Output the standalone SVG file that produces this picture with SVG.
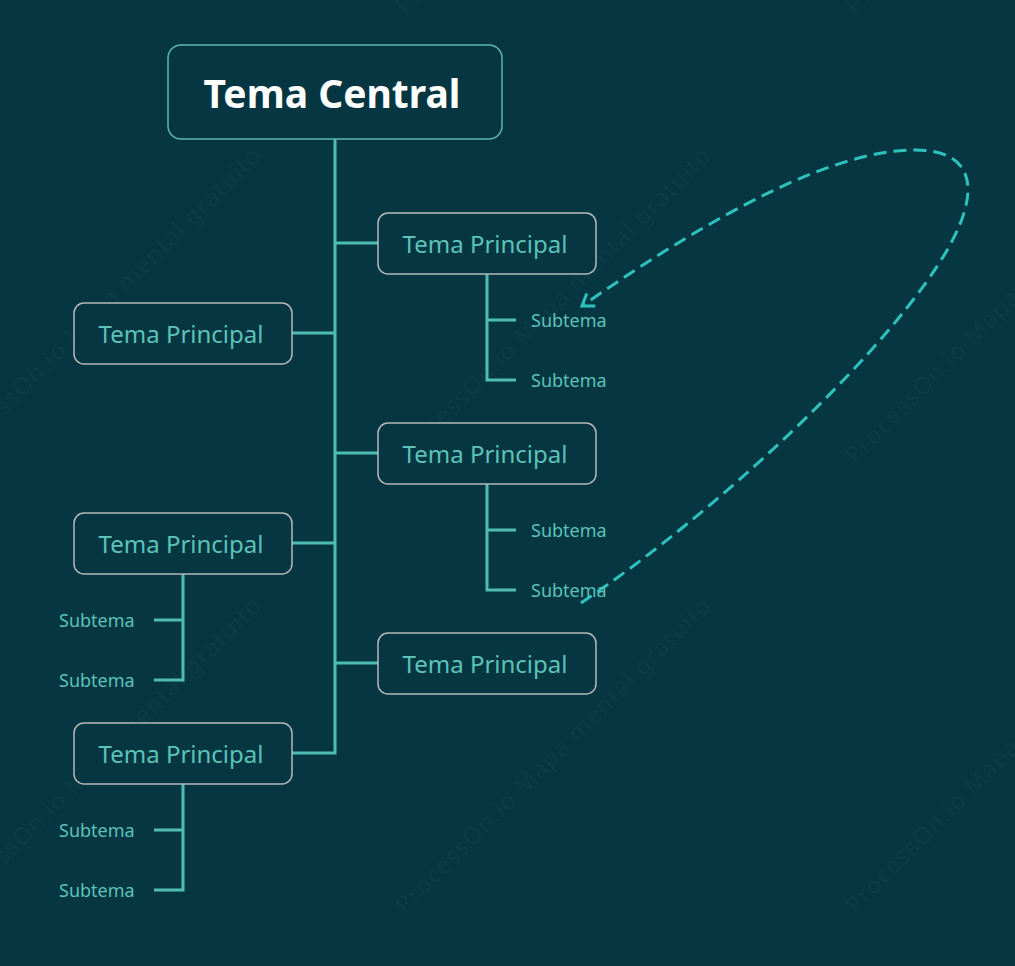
<svg xmlns="http://www.w3.org/2000/svg" width="1015" height="966" viewBox="0 0 1015 966">
<defs>
<style>
.wm{font-family:"Noto Sans",sans-serif;font-size:24px;fill:#ffffff;fill-opacity:0.035}
.conn{fill:none;stroke:#4fbdb2;stroke-width:3}
.main rect{fill:#053642;stroke:#b5b9b8;stroke-width:1.5}
.main text{font-family:"Noto Sans",sans-serif;font-size:24px;fill:#5bc3b8;text-anchor:middle}
.sub{font-family:"Noto Sans",sans-serif;font-size:18px;fill:#5bc3b8}
</style>
<marker id="arr" markerWidth="20" markerHeight="20" refX="15" refY="9" orient="auto" markerUnits="userSpaceOnUse">
<path d="M4,1.5 L15,9 L4,16.5" fill="none" stroke="#2ec2bd" stroke-width="3"/>
</marker>
</defs>
<rect width="1015" height="966" fill="#053642"/>
<g id="watermarks">
<text class="wm" textLength="435" transform="translate(-45,465) rotate(-45)">ProcessOn.io Mapa mental gratuito</text>
<text class="wm" textLength="435" transform="translate(-45,915) rotate(-45)">ProcessOn.io Mapa mental gratuito</text>
<text class="wm" textLength="435" transform="translate(405,15) rotate(-45)">ProcessOn.io Mapa mental gratuito</text>
<text class="wm" textLength="435" transform="translate(405,465) rotate(-45)">ProcessOn.io Mapa mental gratuito</text>
<text class="wm" textLength="435" transform="translate(405,915) rotate(-45)">ProcessOn.io Mapa mental gratuito</text>
<text class="wm" textLength="435" transform="translate(855,15) rotate(-45)">ProcessOn.io Mapa mental gratuito</text>
<text class="wm" textLength="435" transform="translate(855,465) rotate(-45)">ProcessOn.io Mapa mental gratuito</text>
<text class="wm" textLength="435" transform="translate(855,915) rotate(-45)">ProcessOn.io Mapa mental gratuito</text>
</g>
<g id="connectors">
<path class="conn" d="M335,139 V753 H292"/>
<path class="conn" d="M335,243 H378 M335,453 H378 M335,663 H378 M292,333 H335 M292,543 H335"/>
<path class="conn" d="M487,274 V380 H516 M487,320 H516"/>
<path class="conn" d="M487,484 V590 H516 M487,530 H516"/>
<path class="conn" d="M183,574 V680 H154 M183,620 H154"/>
<path class="conn" d="M183,784 V890 H154 M183,830 H154"/>
<path id="relation" d="M581,603 C720,510 895,345 950,245 C980,190 975,150 915,150 C835,150 720,210 582,306" fill="none" stroke="#2ec2bd" stroke-width="3" stroke-dasharray="13,7" marker-end="url(#arr)"/>
</g>
<g id="central">
<rect x="168" y="45" width="334" height="94" rx="13" fill="#053642" stroke="#5ab8ae" stroke-width="1.5"/>
<text x="332" y="108" font-family="Noto Sans, sans-serif" font-size="39" font-weight="bold" fill="#ffffff" text-anchor="middle">Tema Central</text>
</g>
<g id="p1" class="main"><rect x="378" y="213" width="218" height="61" rx="10"/><text x="485" y="253">Tema Principal</text></g>
<g id="p2" class="main"><rect x="378" y="423" width="218" height="61" rx="10"/><text x="485" y="463">Tema Principal</text></g>
<g id="p3" class="main"><rect x="378" y="633" width="218" height="61" rx="10"/><text x="485" y="673">Tema Principal</text></g>
<g id="p4" class="main"><rect x="74" y="303" width="218" height="61" rx="10"/><text x="181" y="343">Tema Principal</text></g>
<g id="p5" class="main"><rect x="74" y="513" width="218" height="61" rx="10"/><text x="181" y="553">Tema Principal</text></g>
<g id="p6" class="main"><rect x="74" y="723" width="218" height="61" rx="10"/><text x="181" y="763">Tema Principal</text></g>
<g id="s1"><text class="sub" x="531" y="327">Subtema</text></g>
<g id="s2"><text class="sub" x="531" y="387">Subtema</text></g>
<g id="s3"><text class="sub" x="531" y="537">Subtema</text></g>
<g id="s4"><text class="sub" x="531" y="597">Subtema</text></g>
<g id="s5"><text class="sub" x="59" y="627">Subtema</text></g>
<g id="s6"><text class="sub" x="59" y="687">Subtema</text></g>
<g id="s7"><text class="sub" x="59" y="837">Subtema</text></g>
<g id="s8"><text class="sub" x="59" y="897">Subtema</text></g>
</svg>
